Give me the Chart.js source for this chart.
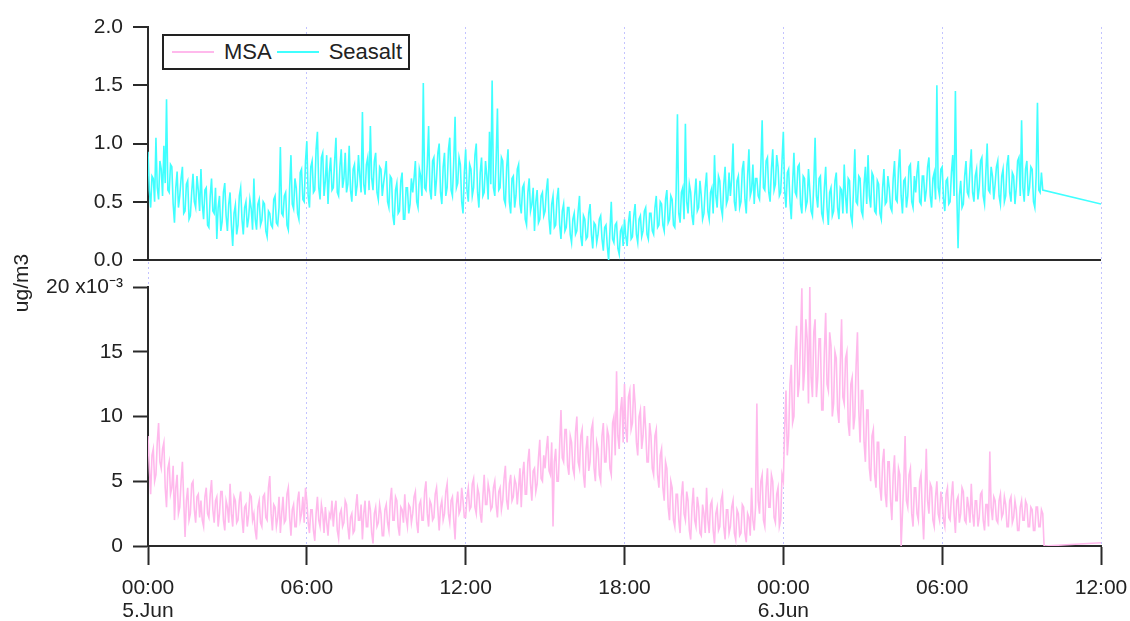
<!DOCTYPE html>
<html>
<head>
<meta charset="utf-8">
<script src="https://cdn.jsdelivr.net/npm/chart.js@4.4.1/dist/chart.umd.min.js"></script>
<style>
  body { margin: 0; background: #fff; }
  #wrap { position: relative; width: 1130px; height: 621px; }
  #legend {
    position: absolute; left: 162px; top: 34px; height: 36px; box-sizing: border-box;
    border: 2px solid #222; background: #fff; padding: 0 6px 0 8px;
    display: flex; align-items: center;
    font: 22px "Liberation Sans", Arial, sans-serif; color: #222;
  }
  #legend .ln { display: inline-block; width: 42px; height: 2px; }
</style>
</head>
<body>
<div id="wrap">
  <canvas id="chart" width="1130" height="621"></canvas>
  <div id="legend"></div>
</div>
<script>
// hours after 00:00 on 5.Jun, one sample every 3 minutes
var stepHours = 0.05;
var tailHour = 36;

var seasalt = [
  0.93,0.60,0.45,0.72,0.70,0.50,1.05,0.62,0.52,0.85,0.78,0.55,0.98,0.66,1.38,0.60,0.58,0.82,0.80,0.48,
  0.32,0.62,0.76,0.45,0.55,0.70,0.80,0.40,0.42,0.65,0.68,0.35,0.38,0.58,0.74,0.50,0.45,0.72,0.60,0.42,
  0.78,0.48,0.35,0.60,0.62,0.30,0.28,0.55,0.70,0.42,0.40,0.62,0.18,0.45,0.55,0.25,0.33,0.58,0.66,0.38,
  0.25,0.48,0.58,0.30,0.12,0.40,0.47,0.22,0.30,0.55,0.62,0.35,0.22,0.45,0.50,0.28,0.36,0.52,0.44,0.26,
  0.70,0.35,0.26,0.48,0.52,0.30,0.34,0.50,0.48,0.25,0.20,0.42,0.40,0.30,0.28,0.52,0.55,0.32,0.30,0.45,
  0.97,0.40,0.38,0.55,0.58,0.30,0.26,0.62,0.90,0.48,0.44,0.70,0.62,0.40,0.35,0.75,0.78,0.52,0.50,0.85,
  1.02,0.55,0.45,0.80,0.85,0.58,0.60,0.95,1.10,0.62,0.52,0.88,0.92,0.55,0.68,0.90,0.48,0.75,0.88,0.60,
  0.62,0.85,1.05,0.58,0.55,0.80,0.95,0.62,0.70,0.92,0.58,0.65,0.98,0.60,0.50,0.78,0.82,0.55,0.64,0.90,
  0.72,0.58,1.27,0.65,0.56,0.82,0.88,0.60,1.15,0.70,0.60,0.85,0.92,0.58,0.52,0.80,0.78,0.55,0.66,0.75,
  0.85,0.50,0.45,0.72,0.70,0.38,0.30,0.60,0.66,0.40,0.42,0.68,0.75,0.35,0.35,0.62,0.62,0.40,0.48,0.70,
  0.58,0.70,0.85,0.50,0.45,0.78,0.72,0.55,1.52,0.62,0.60,0.82,1.15,0.60,0.52,0.85,0.88,0.55,0.70,0.92,
  1.00,0.58,0.48,0.80,0.92,0.55,0.62,0.95,1.05,0.60,0.55,0.85,1.23,0.62,0.66,0.88,0.82,0.50,0.40,0.75,
  0.95,0.60,0.50,0.82,0.78,0.55,0.62,0.90,1.00,0.58,0.45,0.75,0.88,0.55,0.58,0.85,0.72,0.52,1.10,0.65,
  1.54,0.62,0.55,0.85,1.30,0.60,0.62,0.88,0.85,0.52,0.48,0.80,0.95,0.50,0.40,0.70,0.72,0.45,0.55,0.78,
  0.82,0.48,0.40,0.62,0.65,0.35,0.30,0.58,0.70,0.42,0.48,0.62,0.25,0.50,0.60,0.32,0.35,0.55,0.58,0.38,
  0.42,0.60,0.70,0.35,0.22,0.48,0.55,0.28,0.30,0.52,0.62,0.30,0.18,0.42,0.48,0.25,0.28,0.45,0.45,0.22,
  0.15,0.35,0.40,0.22,0.25,0.42,0.55,0.20,0.12,0.38,0.35,0.18,0.20,0.40,0.48,0.22,0.10,0.32,0.30,0.15,
  0.22,0.35,0.38,0.18,0.08,0.28,0.30,0.12,0.00,0.25,0.50,0.18,0.15,0.30,0.32,0.10,0.05,0.25,0.28,0.12,
  0.35,0.20,0.12,0.32,0.42,0.18,0.20,0.38,0.48,0.22,0.15,0.35,0.38,0.20,0.25,0.42,0.45,0.22,0.18,0.40,
  0.40,0.25,0.22,0.45,0.55,0.28,0.30,0.50,0.48,0.30,0.25,0.52,0.60,0.32,0.35,0.55,0.52,0.30,0.28,0.58,
  1.25,0.40,0.32,0.58,0.62,0.35,1.17,0.50,0.40,0.65,0.58,0.38,0.30,0.55,0.70,0.42,0.45,0.68,0.55,0.35,
  0.40,0.62,0.75,0.42,0.35,0.58,0.62,0.40,0.90,0.55,0.45,0.72,0.68,0.45,0.38,0.65,0.80,0.48,0.52,0.75,
  0.55,0.70,1.00,0.50,0.42,0.68,0.72,0.45,0.50,0.78,0.85,0.52,0.40,0.72,0.95,0.55,0.60,0.82,0.48,0.70,
  0.70,0.55,0.52,0.80,1.20,0.62,0.60,0.85,0.88,0.58,0.50,0.78,0.95,0.60,0.65,0.90,0.80,0.55,0.58,0.85,
  1.10,0.60,0.45,0.75,0.78,0.50,0.35,0.65,0.92,0.58,0.55,0.80,0.82,0.48,0.40,0.72,0.70,0.45,0.50,0.78,
  0.60,0.42,0.38,0.65,1.05,0.55,0.45,0.70,0.72,0.40,0.35,0.62,0.80,0.45,0.30,0.58,0.62,0.38,0.42,0.68,
  0.75,0.45,0.35,0.62,0.60,0.40,0.82,0.55,0.40,0.70,0.68,0.38,0.32,0.60,0.95,0.50,0.48,0.72,0.70,0.42,
  0.38,0.65,0.80,0.48,0.90,0.55,0.45,0.75,0.72,0.42,0.40,0.68,0.65,0.40,0.35,0.62,0.78,0.48,0.50,0.72,
  0.62,0.45,0.42,0.70,0.85,0.52,0.50,0.78,0.95,0.55,0.40,0.68,0.70,0.45,0.55,0.80,0.82,0.50,0.45,0.72,
  0.58,0.75,0.85,0.50,0.48,0.72,0.72,0.50,0.60,0.80,0.88,0.55,0.45,0.70,0.75,0.52,1.50,0.62,0.55,0.78,
  0.80,0.52,0.42,0.68,0.70,0.48,0.50,0.75,0.90,0.55,1.45,0.60,0.10,0.55,0.68,0.45,0.48,0.72,0.85,0.58,
  0.55,0.78,0.95,0.58,0.50,0.72,0.78,0.52,0.62,0.85,0.88,0.55,0.48,0.75,1.00,0.60,0.58,0.80,0.72,0.52,
  0.65,0.80,0.85,0.55,0.48,0.72,0.78,0.50,0.55,0.82,0.90,0.58,0.50,0.75,0.72,0.48,0.62,0.85,0.88,0.55,
  1.20,0.62,0.50,0.78,0.85,0.55,0.62,0.80,0.78,0.50,0.45,0.72,1.35,0.60,0.58,0.75,0.60
];
var seasaltTail = 0.48;

// MSA in units of 10^-3 ug/m3
var msa = [
  8.5,6.0,4.0,7.0,7.5,5.0,5.5,8.0,9.5,6.5,6.0,7.5,8.0,4.5,3.0,6.0,6.5,4.0,4.5,6.2,
  2.0,4.5,5.5,2.5,3.0,5.0,6.5,3.5,0.7,3.5,4.5,2.0,2.5,4.8,5.0,2.8,1.8,3.8,4.0,2.2,
  3.5,2.0,1.5,3.8,4.5,2.5,2.2,4.0,5.1,2.8,1.8,3.5,3.8,1.5,2.5,4.2,4.2,2.0,1.2,3.5,
  3.0,1.8,4.8,2.5,1.5,3.8,3.5,1.8,2.0,3.5,4.2,2.2,1.0,3.0,3.2,1.5,2.4,4.0,3.8,2.0,
  2.5,1.2,0.5,3.0,3.5,1.8,1.5,3.8,4.0,2.2,2.0,4.5,5.4,2.5,1.2,3.2,3.0,1.5,2.2,3.8,
  1.0,2.5,3.8,1.8,2.0,4.0,4.5,2.2,0.8,2.8,3.2,1.5,1.5,3.5,4.2,2.0,2.5,3.8,1.8,4.5,
  3.5,1.8,1.0,2.8,2.8,1.2,0.4,2.5,3.8,2.0,1.5,3.2,2.5,1.0,3.0,1.8,0.8,2.5,2.2,3.5,
  1.5,2.8,3.5,1.2,0.6,2.5,2.8,1.5,1.8,3.5,3.2,1.5,0.5,2.2,2.5,1.0,1.2,3.0,4.0,2.0,
  2.0,3.2,0.5,2.5,3.5,1.5,1.5,3.5,2.8,1.0,0.2,2.5,3.0,1.5,1.8,3.2,2.5,0.8,0.8,2.8,
  3.2,1.8,1.2,3.5,4.5,2.0,2.0,3.8,3.5,1.5,0.8,3.0,2.8,1.8,4.0,2.2,1.5,3.2,3.0,1.8,
  2.5,3.8,4.2,1.8,1.0,3.2,3.5,2.0,2.0,4.2,5.0,2.5,1.5,3.5,3.2,2.0,2.2,4.0,4.5,2.8,
  1.2,3.0,3.5,2.0,2.5,4.2,4.8,2.5,1.8,3.5,3.8,2.0,0.5,3.2,4.2,2.5,2.8,4.5,3.5,2.2,
  2.2,3.8,4.5,2.8,3.0,4.8,5.2,3.0,2.5,4.5,4.0,2.5,1.8,3.8,5.5,3.2,3.2,4.8,4.2,2.8,
  3.0,4.5,5.0,3.2,2.2,4.2,4.5,2.8,3.5,5.2,6.2,3.5,2.8,4.8,5.5,3.5,3.8,5.2,4.8,3.2,
  4.5,6.0,3.0,5.5,6.5,4.0,4.0,6.5,7.5,4.8,3.5,5.8,6.0,4.2,4.8,6.8,8.2,5.2,5.0,7.0,
  6.0,7.5,8.5,5.8,5.5,8.0,1.5,6.5,7.5,5.0,5.0,7.8,10.5,6.8,6.5,9.0,9.0,6.2,5.5,8.5,
  8.0,6.0,5.5,8.8,10.0,6.5,6.0,8.5,9.0,5.5,4.5,7.5,8.5,5.8,6.5,9.0,9.5,6.0,5.0,8.0,
  7.5,5.5,5.0,8.5,9.5,6.5,6.5,9.0,8.5,6.0,5.5,9.5,10.0,7.0,13.5,8.5,7.5,10.5,11.5,8.0,
  12.5,9.0,8.0,11.5,12.0,9.0,9.5,12.5,11.0,8.0,7.0,10.0,10.5,7.5,8.5,10.8,9.0,6.5,6.5,9.5,
  8.5,6.0,5.5,8.5,9.0,5.5,4.5,7.0,7.5,4.5,3.5,6.5,6.0,3.0,2.0,5.0,4.5,2.0,1.5,4.0,
  4.0,2.0,1.0,3.8,5.0,2.5,2.0,4.2,3.5,1.2,0.5,3.0,4.5,2.0,1.5,3.8,3.0,1.0,0.8,3.2,
  2.5,1.0,4.5,2.0,1.0,3.2,3.5,1.2,0.2,2.5,3.0,1.2,1.5,3.5,4.0,1.5,0.5,2.8,2.8,1.0,
  1.5,3.0,3.5,1.0,0.5,2.8,2.5,0.8,1.0,3.2,3.0,1.0,0.3,2.5,2.2,0.8,4.5,2.0,1.2,3.0,
  11.0,3.5,2.5,5.0,5.5,2.0,1.5,4.5,6.0,3.0,3.0,5.5,5.0,2.2,1.8,4.0,4.5,1.5,2.0,5.5,
  5.0,9.0,12.0,7.0,8.5,12.5,14.0,9.5,10.0,15.0,17.0,11.5,12.5,16.0,19.9,12.0,13.5,17.5,16.0,11.0,
  20.0,13.0,11.5,16.5,17.5,11.5,13.0,16.0,16.0,10.5,10.5,15.0,18.0,12.5,12.0,16.5,15.5,10.0,11.0,15.0,
  14.5,10.5,9.5,14.0,17.5,11.5,11.0,14.5,15.0,9.5,8.5,12.5,13.0,9.0,10.0,14.0,16.5,10.5,8.0,12.0,
  12.0,8.0,6.5,10.5,10.5,6.0,5.0,8.5,9.0,5.5,4.5,8.0,8.0,4.5,3.5,6.5,7.5,4.0,3.0,6.5,
  6.5,3.5,2.0,5.5,7.0,3.5,3.5,6.0,5.5,0.0,2.5,5.0,8.5,3.5,3.0,5.5,6.0,2.5,1.5,4.5,
  4.5,2.5,2.0,5.0,5.5,2.8,0.5,3.8,7.5,3.5,2.5,4.8,4.5,2.0,1.5,3.8,5.0,2.5,2.0,4.2,
  3.5,2.0,1.5,4.0,4.5,2.2,2.0,3.8,5.0,2.5,1.0,3.5,3.8,1.8,2.5,4.5,4.2,2.0,1.8,3.8,
  3.0,1.8,4.8,2.5,1.5,3.5,3.5,1.5,2.2,4.0,4.2,2.0,1.2,3.2,3.2,1.5,7.3,3.0,2.0,3.8,
  3.5,2.0,1.8,3.5,4.0,2.2,2.5,3.8,3.2,1.5,1.5,3.5,3.8,1.8,2.2,3.5,2.8,1.2,1.2,3.0,
  3.5,2.0,2.0,3.5,3.2,1.5,1.5,3.0,2.8,1.2,1.2,3.0,3.0,1.5,1.5,2.8,2.5,0.0
];
var msaTail = 0.25;

var timeTicks = [['00:00', '5.Jun'], '06:00', '12:00', '18:00', ['00:00', '6.Jun'], '06:00', '12:00'];
var seasaltTicks = ['0.0', '0.5', '1.0', '1.5', '2.0'];
var msaTicks = ['0', '5', '10', '15', '20 x10\u207B\u00B3'];

var msaColor = 'rgb(255,185,236)';
var seasaltColor = 'rgb(64,255,255)';
var axisColor = '#2a2a2a';
var gridColor = 'rgb(195,195,255)';
var font = { family: '"Liberation Sans", Arial, sans-serif', size: 21 };

function toPoints(vals, tail) {
  var pts = vals.map(function (v, i) { return { x: +(i * stepHours).toFixed(2), y: v }; });
  pts.push({ x: tailHour, y: tail });
  return pts;
}

// legend box
var legend = document.getElementById('legend');
[['MSA', msaColor, 0], ['Seasalt', seasaltColor, 5]].forEach(function (it) {
  var ln = document.createElement('span');
  ln.className = 'ln';
  ln.style.background = it[1];
  ln.style.marginLeft = it[2] + 'px';
  ln.style.marginRight = '10px';
  legend.appendChild(ln);
  var tx = document.createElement('span');
  tx.textContent = it[0];
  legend.appendChild(tx);
});

var yLabel = {
  id: 'yLabel',
  afterDraw: function (chart) {
    var ctx = chart.ctx;
    ctx.save();
    ctx.translate(22, 283);
    ctx.rotate(-Math.PI / 2);
    ctx.font = '21px "Liberation Sans", Arial, sans-serif';
    ctx.fillStyle = '#222';
    ctx.textAlign = 'center';
    ctx.textBaseline = 'middle';
    ctx.fillText('ug/m3', 0, 0);
    ctx.restore();
  }
};

var leftAxis = function (s) { s.width = 148; };

new Chart(document.getElementById('chart').getContext('2d'), {
  type: 'line',
  data: {
    datasets: [{
      label: 'MSA',
      data: toPoints(msa, msaTail),
      yAxisID: 'yMsa',
      borderColor: msaColor,
      borderWidth: 1.6,
      pointRadius: 0,
      tension: 0
    }, {
      label: 'Seasalt',
      data: toPoints(seasalt, seasaltTail),
      yAxisID: 'ySea',
      borderColor: seasaltColor,
      borderWidth: 1.6,
      pointRadius: 0,
      tension: 0
    }]
  },
  options: {
    responsive: false,
    animation: false,
    layout: { padding: { left: 0, top: 27, right: 29, bottom: 0 } },
    plugins: { legend: { display: false }, tooltip: { enabled: false } },
    scales: {
      x: {
        type: 'linear', min: 0, max: tailHour,
        afterFit: function (s) { s.height = 75; s.paddingLeft = 0; s.paddingRight = 0; },
        ticks: {
          stepSize: 6, autoSkip: false, maxRotation: 0, padding: 12,
          color: '#222', font: { family: font.family, size: 21, lineHeight: 1.1 },
          callback: function (v, i) { return timeTicks[i]; }
        },
        grid: { color: gridColor, lineWidth: 1, tickLength: 19, tickColor: axisColor, tickWidth: 2 },
        border: { color: axisColor, width: 2, dash: [2, 3] }
      },
      yMsa: {
        type: 'linear', position: 'left', stack: 'y', stackWeight: 259, weight: 1,
        min: 0, max: 20, afterFit: leftAxis,
        ticks: { stepSize: 5, padding: 10, color: '#222', font: font,
          callback: function (v, i) { return msaTicks[i]; } },
        grid: { drawOnChartArea: false, tickLength: 15, tickColor: axisColor, tickWidth: 2 },
        border: { color: axisColor, width: 2 }
      },
      yGap: {
        type: 'linear', position: 'left', stack: 'y', stackWeight: 27, weight: 2,
        afterFit: leftAxis,
        ticks: { display: false },
        grid: { display: false },
        border: { display: false }
      },
      ySea: {
        type: 'linear', position: 'left', stack: 'y', stackWeight: 233, weight: 3,
        min: 0, max: 2, afterFit: leftAxis,
        ticks: { stepSize: 0.5, padding: 10, color: '#222', font: font,
          callback: function (v, i) { return seasaltTicks[i]; } },
        grid: {
          color: function (c) { return c.tick && c.tick.value === 0 ? axisColor : 'rgba(0,0,0,0)'; },
          lineWidth: 2, tickLength: 15, tickColor: axisColor, tickWidth: 2
        },
        border: { color: axisColor, width: 2 }
      }
    }
  },
  plugins: [yLabel]
});
</script>
</body>
</html>
